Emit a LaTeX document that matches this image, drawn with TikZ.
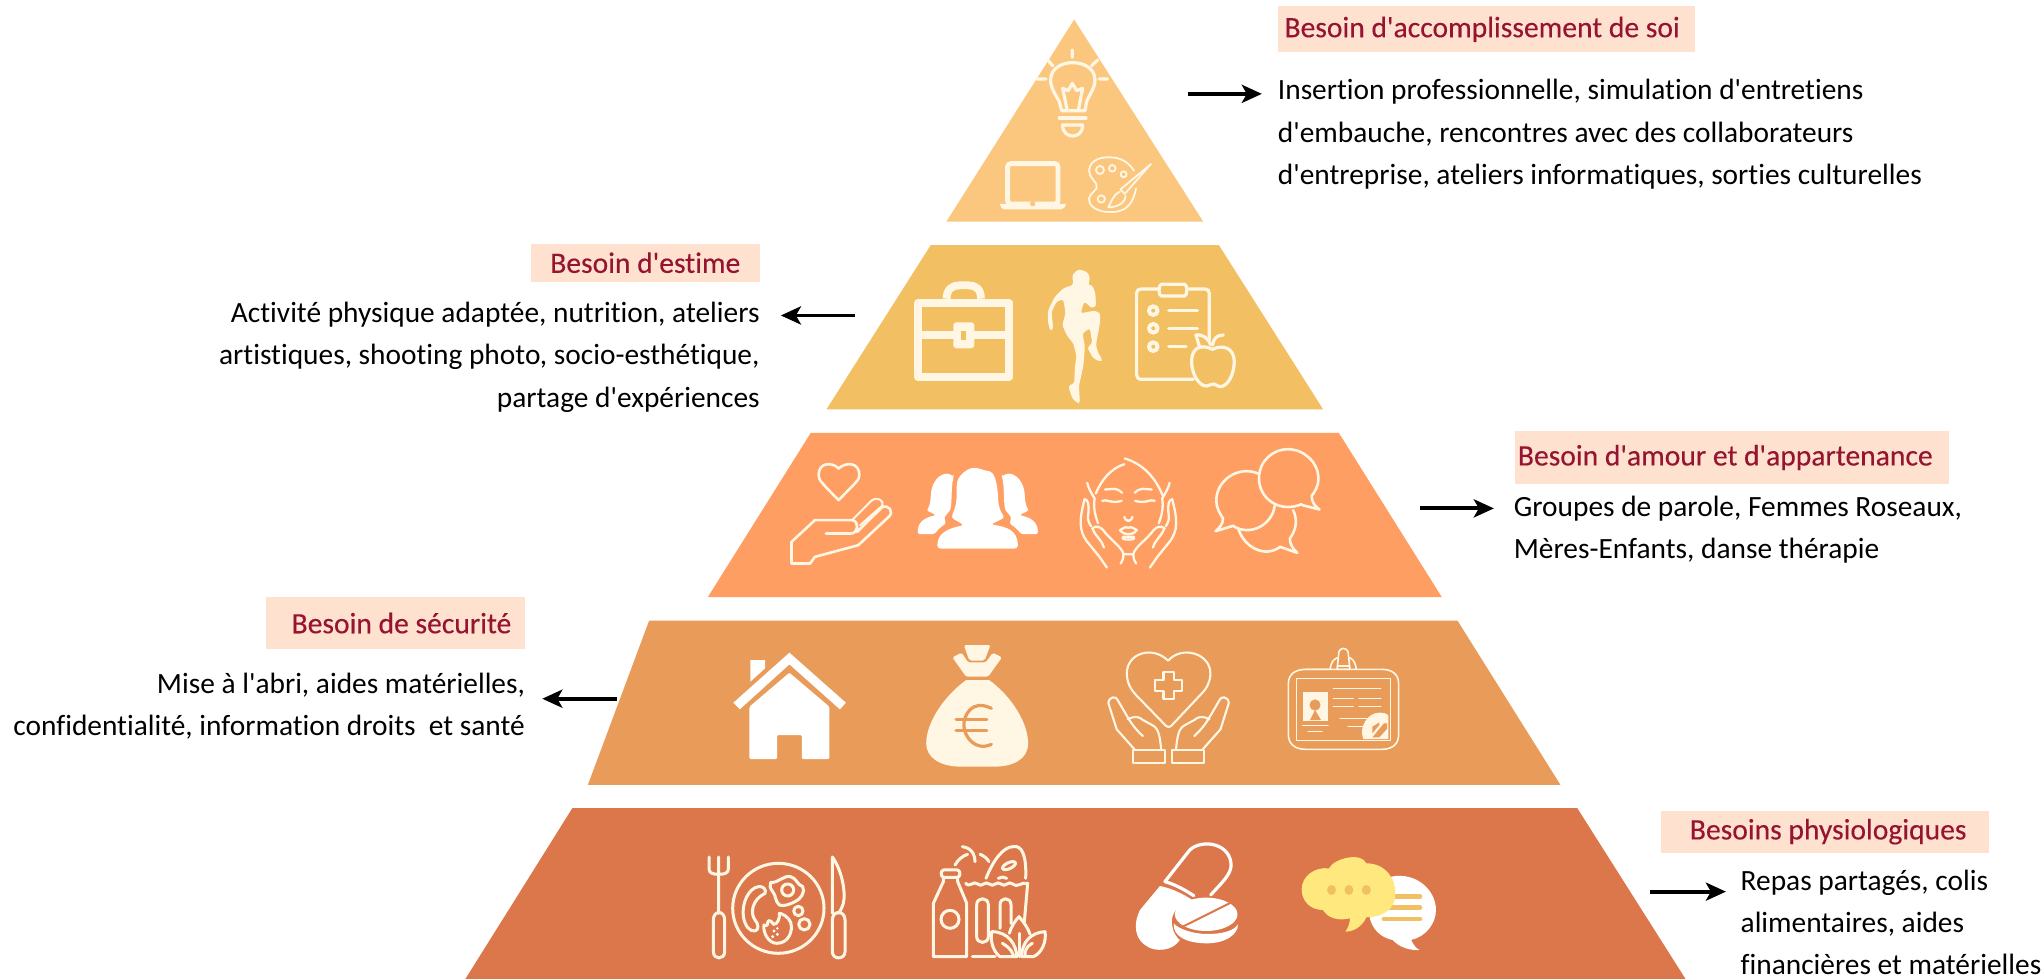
\documentclass[tikz,border=0pt]{standalone}
\usepackage{fontspec}
\newfontfamily\cfont[Ligatures=NoCommon]{Carlito}
\usetikzlibrary{arrows.meta}
\definecolor{cA}{RGB}{251,199,127}
\definecolor{cB}{RGB}{243,191,99}
\definecolor{cC}{RGB}{255,158,98}
\definecolor{cD}{RGB}{233,155,90}
\definecolor{cE}{RGB}{220,119,75}
\definecolor{cream}{RGB}{255,247,228}
\definecolor{headbg}{RGB}{255,225,208}
\definecolor{headtx}{RGB}{150,20,48}
\definecolor{chatY}{RGB}{255,233,127}
\tikzset{
  zA/.style={shift={(713.4,0)},x=0.1662pt,y=-0.1662pt},
  zB/.style={shift={(629,184.1)},x=0.1662pt,y=-0.1662pt},
  zR/.style={shift={(793.9,199.4)},x=0.1662pt,y=-0.1662pt},
  zC/.style={shift={(583,330)},x=0.185pt,y=-0.1662pt},
  zD/.style={shift={(536.9,483.3)},x=0.2289pt,y=-0.1662pt},
  zE/.style={shift={(521.6,636.7)},x=0.248pt,y=-0.1662pt},
  zP/.style={shift={(537,648.2)},x=0.1662pt,y=-0.1662pt},
  zG/.style={shift={(709.6,648.2)},x=0.1662pt,y=-0.1662pt},
  ln/.style={draw=#1,line cap=round,line join=round,fill=none},
  ln/.default=cream,
  thk/.style={line width=1.6pt},
  thn/.style={line width=0.9pt},
  head/.style={fill=headbg,text=headtx,inner sep=0pt,font=\cfont\fontsize{14.75}{18}\selectfont\addfontfeature{FakeBold=0.25}},
  body/.style={inner sep=0pt,text=black,font=\cfont\fontsize{14.65}{21.1}\selectfont},
  arw/.style={-{Stealth[length=10pt,width=9pt,inset=2.5pt]},line width=1.9pt,black},
}
\begin{document}
\begin{tikzpicture}[x=0.65pt,y=-0.65pt]
\useasboundingbox (0,0) rectangle (1568,751);
\begin{scope}
\clip (0,0) rectangle (1568,751);
% tiers
\fill[cA] (824,15) -- (923,170) -- (726,170) -- cycle;
\fill[cB] (714,188) -- (935,188) -- (1015,314) -- (634,314) -- cycle;
\fill[cC] (622,332) -- (1027,332) -- (1106,458) -- (543,458) -- cycle;
\fill[cD] (498,476) -- (1118,476) -- (1197,602) -- (451,602) -- cycle;
\fill[cE] (439,620) -- (1210,620) -- (1293,751) -- (357,751) -- cycle;

% ---------- tier A icons
\begin{scope}[zA]
\draw[ln,thk] (427,150)--(427,172) (353,180)--(368,197) (503,180)--(485,197) (320,237)--(348,237) (508,237)--(533,237);
\draw[ln,thk] (395,332) -- (388,305) .. controls (375,280) and (362,265) .. (362,240) .. controls (362,205) and (395,188) .. (428,188) .. controls (462,188) and (495,205) .. (495,240) .. controls (495,265) and (480,280) .. (470,305) -- (465,332) -- cycle;
\draw[ln,thk] (412,332)--(398,265)--(415,272)--(427,250)--(440,272)--(458,265)--(445,332);
\draw[ln,thk] (388,354)--(468,354);
\draw[ln,thk] (398,375)--(458,375) .. controls (458,400) and (442,408) .. (428,408) .. controls (415,408) and (398,400) .. (398,375) -- cycle;
\draw[cream,line width=2.4pt,rounded corners=1.5pt] (233,491) rectangle (384,612);
\fill[cream] (210,612) -- (408,612) .. controls (406,622) and (400,628) .. (392,628) -- (226,628) .. controls (216,628) and (212,622) .. (210,612) -- cycle;
\fill[cA] (308,611) circle[radius=8];
\draw[ln,thn] (540,472) .. controls (500,470) and (475,490) .. (478,515) .. controls (480,540) and (505,545) .. (500,565) .. controls (490,580) and (470,585) .. (480,610) .. controls (490,632) and (530,640) .. (560,635) .. controls (590,630) and (610,610) .. (618,565);
\draw[ln,thn] (540,472) .. controls (570,472) and (595,485) .. (612,512);
\draw[ln,thn] (510,510) circle[radius=12] (547,505) circle[radius=10] (581,523) circle[radius=9] (514,597) circle[radius=11];
\draw[ln,thn] (663,492) -- (572,568) -- (584,582) -- (663,492);
\draw[ln,thn] (570,575) .. controls (548,585) and (545,605) .. (535,622) .. controls (560,622) and (585,610) .. (587,588);
\end{scope}

% ---------- tier B icons
\begin{scope}[zB]
\draw[cream,line width=3.9pt,line join=round] (294,189) rectangle (568,411);
\draw[cream,line width=3.9pt] (294,286)--(568,286);
\fill[cream,rounded corners=1.5pt] (400,247) rectangle (463,325);
\fill[cB] (424,273) rectangle (439,300);
\draw[ln,line width=3.9pt,line cap=butt] (380,176) .. controls (380,145) and (400,136) .. (420,136) -- (445,136) .. controls (465,136) and (483,145) .. (483,176);
\begin{scope}[line width=1.6pt]
\draw[ln] (1120,418) -- (965,418) .. controls (955,418) and (950,412) .. (950,405) -- (950,160) .. controls (950,152) and (955,147) .. (962,147) -- (1018,147);
\draw[ln] (1100,147) -- (1155,147) .. controls (1163,147) and (1168,152) .. (1168,160) -- (1168,300);
\draw[ln] (1024,133) -- (1094,133) .. controls (1103,133) and (1103,168) .. (1094,168) -- (1024,168) .. controls (1015,168) and (1015,133) .. (1024,133) -- cycle;
\draw[ln,line width=2pt] (1000,212) circle[radius=13] (1000,265) circle[radius=13] (1000,320) circle[radius=13];
\draw[ln,line width=1.8pt] (1047,212)--(1132,212) (1047,266)--(1132,266) (1047,320)--(1098,320);
\path[fill=cB] (1178,328) .. controls (1140,310) and (1115,325) .. (1115,365) .. controls (1115,405) and (1140,440) .. (1160,438) .. controls (1170,438) and (1175,430) .. (1182,432) .. controls (1190,435) and (1195,440) .. (1200,440) .. controls (1225,440) and (1243,400) .. (1243,365) .. controls (1243,325) and (1210,312) .. (1178,328) -- cycle;
\draw[ln] (1178,328) .. controls (1140,310) and (1115,325) .. (1115,365) .. controls (1115,405) and (1140,440) .. (1160,438) .. controls (1170,438) and (1175,430) .. (1182,432) .. controls (1190,435) and (1195,440) .. (1200,440) .. controls (1225,440) and (1243,400) .. (1243,365) .. controls (1243,325) and (1210,312) .. (1178,328) -- cycle;
\draw[ln] (1138,318) -- (1128,285) .. controls (1150,283) and (1165,295) .. (1172,314);
\draw[ln] (1178,315) .. controls (1180,297) and (1190,285) .. (1210,285);
\end{scope}
\end{scope}
\begin{scope}[zR]
\fill[cream,rounded corners=1.2pt] (130,28) -- (155,35) -- (165,50) -- (160,85) -- (152,98) -- (162,72) -- (175,80) -- (182,105) -- (183,140) -- (170,145) -- (155,130) -- (148,125) -- (137,160) -- (180,152) -- (196,160) -- (195,190) -- (183,255) -- (190,280) -- (203,300) -- (195,305) -- (175,295) -- (157,263) -- (172,250) -- (165,205) -- (143,220) -- (150,260) -- (145,320) -- (132,378) -- (135,428) -- (128,430) -- (112,415) -- (100,378) -- (118,370) -- (120,320) -- (125,290) -- (115,250) -- (95,225) -- (82,195) -- (92,160) -- (85,118) -- (65,125) -- (50,155) -- (55,208) -- (45,212) -- (38,180) -- (40,150) -- (60,110) -- (85,85) -- (115,75) -- (112,45) -- cycle;
\end{scope}

% ---------- tier C icons
\begin{scope}[zC]
\begin{scope}[line width=1.3pt]
\draw[ln] (212,115) .. controls (195,95) and (158,95) .. (158,135) .. controls (158,150) and (168,160) .. (212,210) .. controls (255,160) and (268,150) .. (268,135) .. controls (268,95) and (230,95) .. (212,115) -- cycle;
\draw[ln,line width=1pt] (250,268) -- (300,212) .. controls (315,198) and (335,210) .. (330,226) -- (270,285);
\draw[ln] (262,305) -- (328,232) .. controls (345,220) and (365,245) .. (345,262) -- (265,345) -- (148,380) -- (135,400) -- (85,400) -- (85,335) -- (148,270) -- (250,270) .. controls (268,275) and (265,310) .. (245,310) -- (178,310);
\end{scope}
\fill[white,rounded corners=1.5pt] (515,262) .. controls (532,220) and (530,200) .. (530,165) .. controls (535,135) and (560,113) .. (585,113) -- (610,122) .. controls (630,125) and (638,150) .. (642,200) .. controls (642,225) and (648,245) .. (660,262) -- (622,283) .. controls (665,290) and (695,300) .. (695,355) -- (478,355) .. controls (478,310) and (505,295) .. (550,285) -- cycle;
\foreach \m/\o in {1/0,-1/1174}{
\begin{scope}[shift={(\o,0)},xscale=\m]
\fill[white,rounded corners=1.2pt] (522,140) .. controls (500,120) and (462,140) .. (460,205) .. controls (458,222) and (455,232) .. (448,240) -- (475,255) .. controls (445,262) and (425,275) .. (425,312) -- (470,312) .. controls (480,298) and (490,288) .. (502,280) .. controls (495,262) and (500,255) .. (510,245) .. controls (518,225) and (515,170) .. (522,140) -- cycle;
\end{scope}}
\begin{scope}[line width=1.15pt]
\draw[ln] (982,102) .. controls (945,115) and (920,150) .. (905,190);
\draw[ln] (983,85) .. controls (1030,100) and (1065,140) .. (1085,195);
\foreach \m/\o in {1/0,-1/1986}{
\begin{scope}[shift={(\o,0)},xscale=\m]
\draw[ln] (882,158) .. controls (885,175) and (895,192) .. (902,205) .. controls (898,230) and (903,255) .. (911,279);
\draw[ln] (930,178) -- (955,176) .. controls (965,178) and (972,182) .. (976,188);
\draw[ln] (922,212) .. controls (935,205) and (945,222) .. (975,212);
\draw[ln] (935,412) -- (915,380) -- (880,332) .. controls (860,300) and (860,270) .. (875,207) .. controls (885,208) and (887,225) .. (885,250) .. controls (882,265) and (885,275) .. (892,288);
\draw[ln] (895,295) .. controls (905,285) and (918,290) .. (925,300) .. controls (945,330) and (975,350) .. (980,372) -- (993,372);
\draw[ln] (897,297) .. controls (905,320) and (922,330) .. (927,352);
\draw[ln] (972,400) .. controls (978,390) and (980,382) .. (980,372);
\draw[ln] (978,320) -- (993,320) (978,320) .. controls (974,328) and (985,328) .. (993,328);
\draw[ln] (970,300) .. controls (978,295) and (985,288) .. (993,293) (970,300) .. controls (978,310) and (985,312) .. (993,312);
\draw[ln] (982,260) .. controls (985,270) and (990,272) .. (993,272);
\end{scope}}
\end{scope}
\begin{scope}[line width=1.3pt]
\draw[ln] (1460,222) .. controls (1400,250) and (1345,205) .. (1345,145) .. controls (1345,90) and (1385,57) .. (1422,57) .. controls (1465,57) and (1505,95) .. (1505,145) .. controls (1505,170) and (1495,185) .. (1487,197) .. controls (1487,215) and (1495,228) .. (1508,238) -- (1462,225);
\draw[ln] (1342,130) .. controls (1290,105) and (1230,150) .. (1230,210) .. controls (1230,235) and (1240,250) .. (1248,265) .. controls (1248,280) and (1240,292) .. (1228,303) -- (1275,287) .. controls (1320,320) and (1380,285) .. (1387,228);
\draw[ln] (1290,298) .. controls (1305,350) and (1360,385) .. (1402,350) -- (1448,368) .. controls (1435,355) and (1428,340) .. (1428,325) .. controls (1445,300) and (1450,270) .. (1437,240);
\end{scope}
\end{scope}

% ---------- tier D icons
\begin{scope}[zD]
\fill[white] (195,68) -- (318,218) -- (305,238) -- (195,103) -- (87,238) -- (73,218) -- cycle;
\fill[white] (110,90) -- (142,90) -- (142,115) -- (110,155) -- cycle;
\fill[white,rounded corners=0.6pt] (195,128) -- (282,230) -- (282,387) -- (222,387) -- (222,315) -- (168,315) -- (168,387) -- (108,387) -- (108,230) -- cycle;
\fill[cream,rounded corners=1pt] (575,45) -- (633,45) -- (620,92) -- (587,92) -- cycle;
\fill[cream,rounded corners=0.8pt] (550,82) -- (570,68) -- (584,97) -- (623,97) -- (638,68) -- (658,82) -- (628,140) -- (580,140) -- cycle;
\fill[cream] (580,150) -- (630,150) .. controls (680,200) and (715,280) .. (715,340) .. controls (715,390) and (680,410) .. (640,410) -- (570,410) .. controls (520,410) and (493,380) .. (493,340) .. controls (493,280) and (530,200) .. (580,150) -- cycle;
\draw[ln=cD,line width=1.6pt] (635,235) .. controls (590,205) and (575,260) .. (575,285) .. controls (575,320) and (600,365) .. (635,343);
\draw[ln=cD,line width=1.6pt] (558,268) -- (625,268) (558,302) -- (625,302);
\begin{scope}[line width=1.05pt]
\draw[ln] (1020,92) .. controls (985,45) and (930,70) .. (930,130) .. controls (930,160) and (940,180) .. (950,195) -- (1010,280) .. controls (1020,295) and (1022,295) .. (1032,280) -- (1090,195) .. controls (1105,175) and (1112,155) .. (1112,130) .. controls (1112,70) and (1050,45) .. (1020,92) -- cycle;
\draw[ln] (1010,125) -- (1032,125) -- (1032,150) -- (1050,150) -- (1050,183) -- (1032,183) -- (1032,207) -- (1010,207) -- (1010,183) -- (992,183) -- (992,150) -- (1010,150) -- cycle;
\foreach \m/\o in {1/0,-1/2042}{
\begin{scope}[shift={(\o,0)},xscale=\m]
\draw[ln] (948,360) -- (908,298) -- (890,220) .. controls (890,198) and (908,198) .. (910,210) -- (932,262) .. controls (942,285) and (952,302) .. (965,318);
\draw[ln] (932,268) .. controls (950,255) and (958,262) .. (965,270) -- (985,285) .. controls (1000,295) and (1002,320) .. (1005,360);
\draw[ln] (943,360) rectangle (1014,400);
\end{scope}}
\end{scope}
\begin{scope}[line width=0.8pt]
\draw[ln] (1320,118) -- (1373,118) .. controls (1375,95) and (1380,90) .. (1388,83);
\draw[ln] (1430,118) -- (1485,118) .. controls (1510,118) and (1522,135) .. (1522,160) -- (1522,315) .. controls (1522,340) and (1510,358) .. (1485,358) -- (1320,358) .. controls (1295,358) and (1282,340) .. (1282,315) -- (1282,160) .. controls (1282,135) and (1295,118) .. (1320,118) -- cycle;
\draw[ln] (1430,118) .. controls (1428,98) and (1424,90) .. (1416,83);
\draw[ln] (1388,118) -- (1392,65) .. controls (1395,52) and (1408,52) .. (1412,65) -- (1416,118) -- cycle (1388,108) -- (1416,108);
\draw[ln] (1300,145) rectangle (1504,332);
\draw[ln] (1380,175)--(1483,175) (1380,205)--(1423,205) (1436,205)--(1483,205) (1380,230)--(1423,230) (1436,230)--(1483,230) (1395,266)--(1452,266) (1412,290)--(1445,290) (1313,286)--(1368,286) (1325,304)--(1355,304);
\end{scope}
\fill[cream] (1313,186) rectangle (1368,272);
\fill[cD] (1340,225) circle[x radius=12,y radius=17];
\fill[cD] (1329,270) -- (1340,240) -- (1353,270) -- cycle;
\fill[cream] (1445,327) .. controls (1435,290) and (1455,248) .. (1480,248) .. controls (1490,248) and (1497,250) .. (1500,258) -- (1500,327) -- cycle;
\fill[cD] (1465,290) -- (1480,277) -- (1480,285) -- (1465,310) -- cycle;
\fill[cD] (1465,322) -- (1490,280) -- (1497,280) -- (1497,296) -- (1480,322) -- cycle;
\end{scope}

% ---------- tier E icons: plate
\begin{scope}[zP,line width=1.5pt]
\draw[ln] (27,36)--(27,72) .. controls (27,85) and (40,88) .. (56,88) .. controls (72,88) and (85,85) .. (85,72) -- (85,36) (56,36)--(56,205);
\draw[ln] (40,225) .. controls (40,195) and (74,195) .. (74,225) -- (74,320) .. controls (74,345) and (40,345) .. (40,320) -- cycle;
\draw[ln] (235,190) circle[x radius=137,y radius=135];
\draw[ln] (175,125) .. controls (145,130) and (125,175) .. (130,215) .. controls (135,245) and (150,260) .. (165,258) .. controls (178,255) and (175,235) .. (165,225) .. controls (150,205) and (155,165) .. (195,145) .. controls (200,135) and (190,122) .. (175,125) -- cycle;
\draw[ln] (212,112) .. controls (235,115) and (250,90) .. (272,95) .. controls (290,100) and (290,118) .. (308,125) .. controls (318,140) and (300,165) .. (285,170) .. controls (270,178) and (250,185) .. (238,180) .. controls (225,170) and (228,150) .. (218,140) .. controls (210,130) and (208,120) .. (212,112) -- cycle;
\draw[ln] (263,135) circle[radius=18];
\draw[ln] (295,198) circle[radius=14] (313,238) circle[radius=17];
\draw[ln] (192,240) .. controls (188,262) and (205,295) .. (230,295) .. controls (265,295) and (280,260) .. (272,232) .. controls (265,215) and (245,205) .. (238,205) .. controls (240,220) and (232,240) .. (220,238) .. controls (215,228) and (205,222) .. (203,232) .. controls (205,242) and (195,245) .. (192,240) -- cycle;
\fill[white] (222,258) circle[radius=5] (232,250) circle[radius=4] (232,268) circle[radius=5] (218,275) circle[radius=5];
\draw[ln] (397,36) -- (397,205) (397,36) .. controls (425,75) and (438,140) .. (430,175) .. controls (425,190) and (420,200) .. (415,205);
\draw[ln] (397,225) .. controls (397,195) and (435,195) .. (435,225) -- (435,320) .. controls (435,345) and (397,345) .. (397,320) -- cycle;
\end{scope}
% groceries
\begin{scope}[zG,line width=1.5pt]
\draw[ln] (56,75) -- (97,75) .. controls (107,75) and (107,97) .. (97,97) -- (56,97) .. controls (46,97) and (46,75) .. (56,75) -- cycle;
\draw[ln] (55,97) -- (55,110) -- (25,175) -- (25,335) -- (125,335) -- (125,175) -- (98,110) -- (98,97);
\draw[ln] (75,223) circle[radius=27];
\draw[ln] (122,115) .. controls (135,130) and (145,105) .. (158,117) .. controls (170,130) and (180,105) .. (193,117) .. controls (205,130) and (215,105) .. (228,117) .. controls (240,130) and (250,105) .. (263,117) .. controls (275,130) and (290,110) .. (308,115) -- (298,230);
\draw[ln] (183,100) .. controls (205,45) and (235,5) .. (265,5) .. controls (290,0) and (305,30) .. (302,100);
\draw[ln,rotate around={25:(252,62)}] (252,62) circle[x radius=21,y radius=9];
\draw[ln] (220,100) .. controls (228,95) and (238,95) .. (245,100);
\draw[ln] (112,5) .. controls (145,10) and (150,35) .. (150,50);
\draw[ln] (90,60) .. controls (100,42) and (115,32) .. (128,28);
\draw[ln] (165,28) .. controls (178,33) and (188,42) .. (192,50);
\draw[ln] (155,180) .. controls (155,155) and (190,155) .. (190,180) -- (190,275) .. controls (190,298) and (155,298) .. (155,275) -- cycle;
\draw[ln] (225,250) -- (225,180) .. controls (225,155) and (258,155) .. (258,180) -- (258,235);
\draw[ln] (142,335) -- (210,335);
\path[fill=cE] (200,260) .. controls (250,260) and (275,300) .. (275,335) -- (225,335) .. controls (205,320) and (195,290) .. (200,260) -- cycle;
\draw[ln] (200,260) .. controls (250,260) and (275,300) .. (275,335) -- (225,335) .. controls (205,320) and (195,290) .. (200,260) -- cycle;
\path[fill=cE] (360,260) .. controls (320,262) and (290,290) .. (290,335) -- (325,335) .. controls (350,325) and (365,290) .. (360,260) -- cycle;
\draw[ln] (360,260) .. controls (320,262) and (290,290) .. (290,335) -- (325,335) .. controls (350,325) and (365,290) .. (360,260) -- cycle;
\draw[ln] (253,265) .. controls (258,245) and (272,225) .. (282,215) .. controls (295,230) and (310,250) .. (315,268);
\draw[ln] (282,265) -- (282,335);
\draw[ln] (265,330) .. controls (258,310) and (240,300) .. (232,295);
\draw[ln] (300,330) .. controls (300,305) and (315,300) .. (322,295);
\end{scope}
\begin{scope}[zE]
\draw[ln=white,line width=1.6pt] (975,155) -- (1025,60) .. controls (1050,25) and (1110,40) .. (1108,110) .. controls (1105,135) and (1095,150) .. (1067,195);
\draw[ln=white,line width=1.6pt] (975,155) .. controls (1000,165) and (1020,185) .. (1033,197);
\fill[white] (965,168) .. controls (990,175) and (1015,195) .. (1030,210) .. controls (995,225) and (985,260) .. (990,290) .. controls (992,310) and (1000,325) .. (1005,330) .. controls (990,365) and (955,365) .. (940,350) .. controls (915,330) and (910,285) .. (925,240) -- cycle;
\fill[white] (1058,253) circle[x radius=63,y radius=50];
\draw[cE,line width=1pt] (1000,298) -- (1125,205);
\fill[white] (993,280) .. controls (1000,295) and (1030,312) .. (1060,312) .. controls (1095,312) and (1115,300) .. (1122,283) .. controls (1122,315) and (1095,340) .. (1060,340) .. controls (1020,340) and (990,320) .. (993,280) -- cycle;
\fill[white] (1430,140) .. controls (1480,125) and (1520,180) .. (1520,240) .. controls (1520,280) and (1500,320) .. (1470,330) .. controls (1475,345) and (1480,355) .. (1487,360) .. controls (1465,362) and (1445,350) .. (1433,330) .. controls (1400,320) and (1385,280) .. (1385,240) -- cycle;
\draw[ln=cB,line width=2.2pt] (1437,200)--(1488,200) (1425,233)--(1488,233) (1415,267)--(1488,267);
\fill[chatY] (1305,115) .. controls (1315,85) and (1370,65) .. (1380,100) .. controls (1420,100) and (1440,150) .. (1438,190) .. controls (1440,240) and (1410,262) .. (1380,262) .. controls (1375,280) and (1360,305) .. (1338,305) .. controls (1345,290) and (1347,275) .. (1347,265) .. controls (1320,275) and (1300,260) .. (1293,240) .. controls (1265,240) and (1250,210) .. (1250,178) .. controls (1250,140) and (1275,110) .. (1305,115) -- cycle;
\fill[cB] (1310,180) circle[x radius=9,y radius=15] (1345,180) circle[x radius=9,y radius=15] (1380,180) circle[x radius=9,y radius=15];
\end{scope}
\end{scope}

% headings
\node[head,minimum width=208pt,minimum height=22.8pt] (hA) at (1140,22.5) {\kern-3.9pt\raisebox{-0.6pt}{Besoin d'accomplissement de soi}};
\node[head,minimum width=114.4pt,minimum height=18.9pt] (hB) at (495,201.5) {Besoin d'estime};
\node[head,minimum width=216.5pt,minimum height=26pt] (hC) at (1328.5,351) {\kern-6.5pt Besoin d'amour et d'appartenance};
\node[head,minimum width=129.4pt,minimum height=26pt] (hD) at (303.5,478) {\kern5.8pt Besoin de sécurité};
\node[head,minimum width=163.8pt,minimum height=20.8pt] (hE) at (1400,638) {\kern3.2pt\raisebox{-1pt}{Besoins physiologiques}};

% bodies
\node[body,anchor=west,align=left] (tA) at (980,103) {Insertion professionnelle, simulation d'entretiens\\d'embauche, rencontres avec des collaborateurs\\d'entreprise, ateliers informatiques, sorties culturelles};
\node[body,anchor=east,align=right] (tB) at (583,274) {Activité physique adaptée, nutrition, ateliers\\artistiques, shooting photo, socio-esthétique,\\partage d'expériences\hspace{2pt}};
\node[body,anchor=west,align=left] (tC) at (1161,406.5) {Groupes de parole, Femmes Roseaux,\\Mères-Enfants, danse thérapie};
\node[body,anchor=east,align=right] (tD) at (403,541.5) {Mise à l'abri, aides matérielles,\\confidentialité, information droits\ \ et santé};
\node[body,anchor=west,align=left] (tE) at (1335,707.5) {Repas partagés, colis\\alimentaires, aides\\financières et matérielles};

% arrows
\coordinate (aA1) at (911,72); \coordinate (aA2) at (968,72);
\coordinate (aB1) at (656,242); \coordinate (aB2) at (599,242);
\coordinate (aC1) at (1089,390); \coordinate (aC2) at (1146,390);
\coordinate (aD1) at (473,536); \coordinate (aD2) at (416,536);
\coordinate (aE1) at (1266,684); \coordinate (aE2) at (1324,684);
\draw[arw] (aA1) -- (aA2);
\draw[arw] (aB1) -- (aB2);
\draw[arw] (aC1) -- (aC2);
\draw[arw] (aD1) -- (aD2);
\draw[arw] (aE1) -- (aE2);
\end{tikzpicture}
\end{document}
